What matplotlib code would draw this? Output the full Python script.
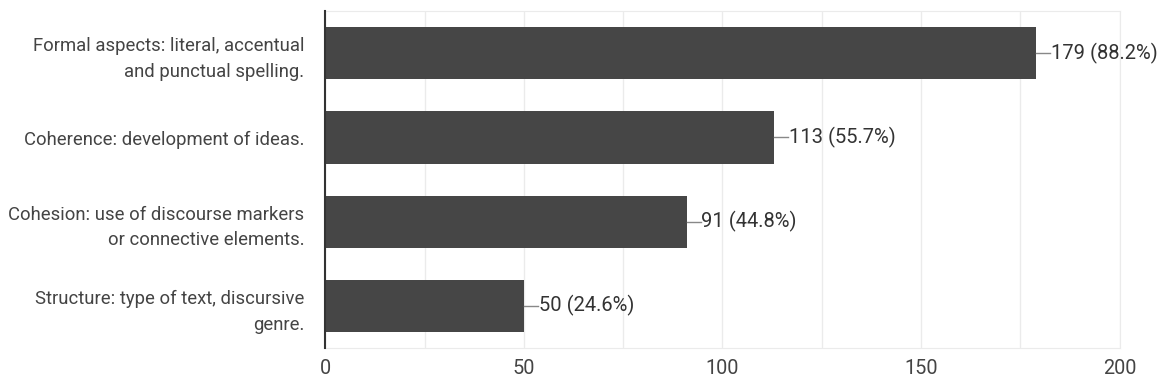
import matplotlib.pyplot as plt
from matplotlib.ticker import MultipleLocator

# data
categories = [
    "Formal aspects: literal, accentual\nand punctual spelling.",
    "Coherence: development of ideas.",
    "Cohesion: use of discourse markers\nor connective elements.",
    "Structure: type of text, discursive\ngenre.",
]
counts = [179, 113, 91, 50]
percents = [88.2, 55.7, 44.8, 24.6]
x_ticks = [0, 50, 100, 150, 200]

plt.rcParams['font.family'] = ['Roboto', 'DejaVu Sans']

fig = plt.figure(figsize=(11.7, 3.85), dpi=100)
ax = fig.add_axes([0.278, 0.096, 0.679, 0.875])

ypos = list(range(len(categories)))
ax.barh(ypos, counts, height=0.62, color='#464646', zorder=3)

# value labels with short leader line
for y, c, p in zip(ypos, counts, percents):
    ax.plot([c, c + 3.5], [y, y], color='#888888', lw=1, zorder=3)
    ax.text(c + 3.7, y, f"{c} ({p}%)", va='center', ha='left',
            fontsize=14.5, color='#333333')

ax.set_xlim(0, 200)
ax.set_ylim(3.5, -0.5)
ax.set_xticks(x_ticks)
ax.xaxis.set_minor_locator(MultipleLocator(25))
ax.set_yticks(ypos)
ax.set_yticklabels(categories, fontsize=13.3, color='#444444', linespacing=1.55)

ax.grid(axis='x', which='both', color='#ebebeb', lw=1, zorder=0)
ax.tick_params(axis='both', which='both', length=0)
ax.tick_params(axis='y', pad=15)
ax.tick_params(axis='x', pad=8, labelsize=14.3, labelcolor='#444444')

for side in ['top', 'bottom', 'right']:
    ax.spines[side].set_color('#ebebeb')
ax.spines['left'].set_color('#333333')
ax.spines['left'].set_linewidth(1.5)
ax.spines['left'].set_zorder(4)

fig.savefig('out.png', dpi=100)
